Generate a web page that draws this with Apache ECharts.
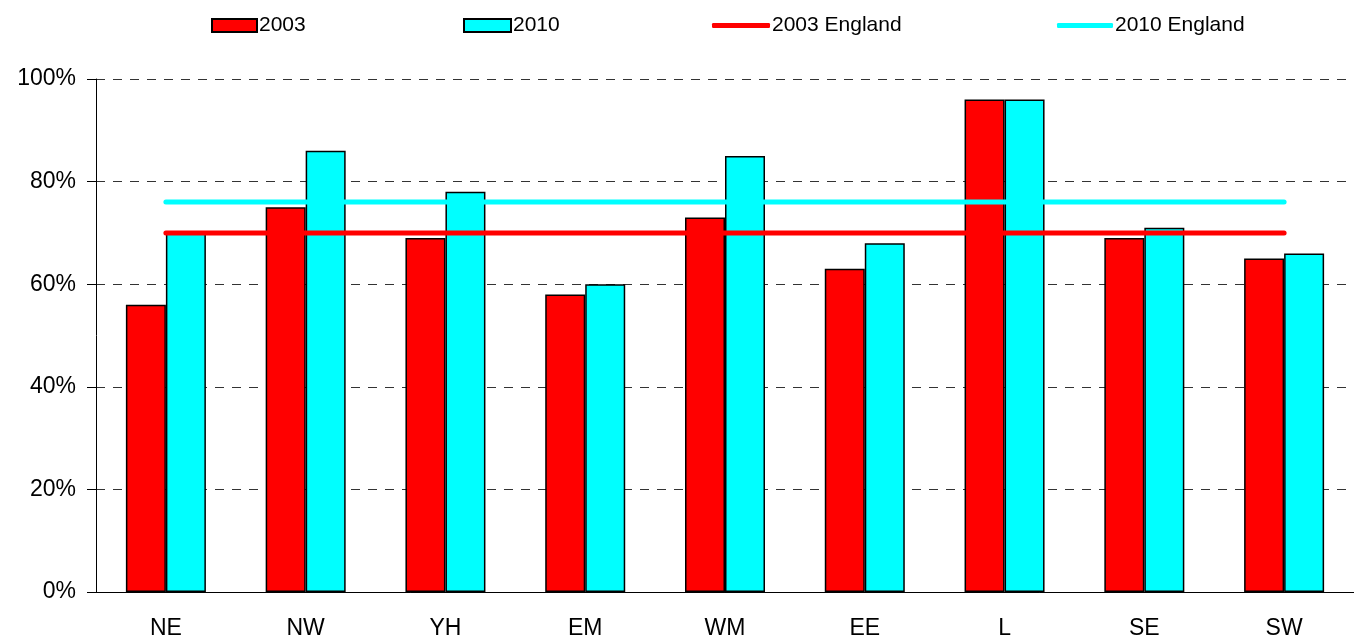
<!DOCTYPE html>
<html>
<head>
    <meta charset="utf-8">
    <title>Regions 2003 / 2010</title>
    <script src="https://cdn.jsdelivr.net/npm/echarts@6/dist/echarts.min.js"></script>
    <style>
        html, body { margin: 0; padding: 0; background: #fff; }
        #chart1 { width: 1354px; height: 641px; }
    </style>
</head>
<body>
<div id="chart1"></div>
<script type="text/javascript">
    // data
    var regions = ['NE', 'NW', 'YH', 'EM', 'WM', 'EE', 'L', 'SE', 'SW'];
    var values2003 = [56, 75, 69, 58, 73, 63, 96, 69, 65];
    var values2010 = [70, 86, 78, 60, 85, 68, 96, 71, 66];
    var england2003 = 70;
    var england2010 = 76;

    var font = 'Liberation Sans, Arial, sans-serif';

    // one legend per entry so each sits where the original has it
    function legendItem(name, left, w, h, icon) {
        var item = { name: name };
        if (icon) item.icon = icon;
        return {
            top: 23 - 13,
            left: left,
            itemWidth: w,
            itemHeight: h,
            height: 26,
            textStyle: { fontSize: 21, color: '#000', padding: [0, 0, 0, -3] },
            data: [item]
        };
    }

    var myChart1 = echarts.init(document.getElementById('chart1'));
    myChart1.setOption({
        animation: false,
        textStyle: { fontFamily: font },
        legend: [
            legendItem('2003', 206, 45, 13, 'rect'),
            legendItem('2010', 458, 47, 13, 'rect'),
            legendItem('2003 England', 707, 58, 5, 'roundRect'),
            legendItem('2010 England', 1052, 56, 5, 'roundRect')
        ],
        grid: { left: 96, right: -6, top: 79, bottom: 49 },
        xAxis: {
            type: 'category',
            data: regions,
            axisLine: { lineStyle: { color: '#000', width: 1 } },
            axisTick: { show: false },
            axisLabel: { fontSize: 23, color: '#000', margin: 25 }
        },
        yAxis: {
            type: 'value',
            min: 0,
            max: 100,
            interval: 20,
            axisLine: { show: true, lineStyle: { color: '#000', width: 1 } },
            axisTick: { show: true, length: 9, lineStyle: { color: '#000' } },
            axisLabel: { fontSize: 23, color: '#000', margin: 20, formatter: '{value}%' },
            splitLine: { lineStyle: { color: '#333', type: [9, 8], width: 1 } }
        },
        series: [
            {
                name: '2003',
                type: 'bar',
                data: values2003,
                barWidth: 40,
                barGap: '0%',
                itemStyle: { color: '#ff0000', borderColor: '#000', borderWidth: 1.5 }
            },
            {
                name: '2010',
                type: 'bar',
                data: values2010,
                barWidth: 40,
                itemStyle: { color: '#00ffff', borderColor: '#000', borderWidth: 1.5 }
            },
            {
                name: '2003 England',
                type: 'line',
                data: regions.map(function () { return england2003; }),
                symbol: 'none',
                z: 5,
                itemStyle: { color: '#ff0000' },
                lineStyle: { color: '#ff0000', width: 5, cap: 'round' }
            },
            {
                name: '2010 England',
                type: 'line',
                data: regions.map(function () { return england2010; }),
                symbol: 'none',
                z: 5,
                itemStyle: { color: '#00ffff' },
                lineStyle: { color: '#00ffff', width: 5, cap: 'round' }
            }
        ]
    });
</script>
</body>
</html>
